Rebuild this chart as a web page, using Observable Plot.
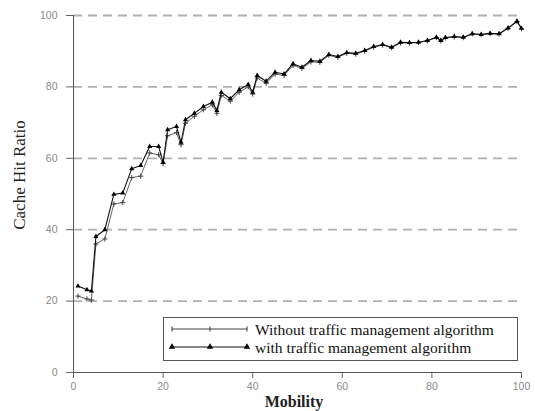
<!DOCTYPE html>
<html>
<head>
<meta charset="utf-8">
<script src="https://cdn.jsdelivr.net/npm/d3@7"></script>
<script src="https://cdn.jsdelivr.net/npm/@observablehq/plot@0.6"></script>
<style>
  html, body { margin: 0; padding: 0; background: #fff; }
  #chart { width: 535px; height: 411px; }
</style>
</head>
<body>
<div id="chart"></div>
<script>
// Mobility values (x)
const mobility = [1,3,4,5,7,9,11,13,15,17,19,20,21,23,24,25,27,29,31,32,33,35,37,39,40,41,43,45,47,49,51,53,55,57,59,61,63,65,67,69,71,73,75,77,79,81,82,83,85,87,89,91,93,95,97,99,100];
// Cache hit ratio, with traffic management algorithm
const withTM = [24.2,23.2,22.8,38.1,40.0,49.9,50.3,57.1,58.0,63.3,63.3,58.9,68.0,68.9,64.5,70.8,72.6,74.5,75.7,73.4,78.5,76.7,79.2,80.7,78.5,83.2,81.6,84.1,83.6,86.5,85.5,87.4,87.2,89.1,88.5,89.6,89.4,90.2,91.3,91.9,91.1,92.5,92.4,92.5,93.0,93.9,93.0,93.8,94.1,93.9,94.9,94.7,95.0,94.9,96.5,98.4,96.4];
// Cache hit ratio, without traffic management algorithm
const withoutTM = [21.4,20.6,20.3,36.0,37.4,47.2,47.6,54.6,55.0,61.5,61.0,58.5,66.3,67.2,63.8,69.8,71.8,73.6,75.0,72.6,77.6,76.0,78.5,80.0,78.0,82.5,81.0,83.6,83.2,86.0,85.2,87.0,86.9,88.8,88.3,89.4,89.2,90.0,91.1,91.7,91.0,92.3,92.3,92.4,92.9,93.8,92.9,93.7,94.0,93.8,94.8,94.6,94.9,94.8,96.4,98.3,96.3];
const xTicks = [0,20,40,60,80,100];
const yTicks = [0,20,40,60,80,100];
const gridY = [20,40,60,80,100];
const seriesNames = ["Without traffic management algorithm", "with traffic management algorithm"];

const rowsWithout = mobility.map((m, i) => ({x: m, y: withoutTM[i]}));
const rowsWith = mobility.map((m, i) => ({x: m, y: withTM[i]}));

const plot = Plot.plot({
  width: 535,
  height: 411,
  marginLeft: 73,
  marginRight: 14,
  marginTop: 15,
  marginBottom: 39,
  style: {fontFamily: "'Liberation Sans', Arial, sans-serif", fontSize: "10.5px", background: "#fff"},
  x: {domain: [0, 100]},
  y: {domain: [0, 100]},
  marks: [
    Plot.ruleY(gridY, {stroke: "#b0b0b0", strokeWidth: 1.8, strokeDasharray: "9,6"}),
    Plot.axisY(yTicks, {tickSize: 7, tickPadding: 9, label: null, stroke: "#666", fill: "#8a8a8a"}),
    Plot.axisX(xTicks, {tickSize: 6, tickPadding: 4, label: null, stroke: "#666", fill: "#8a8a8a"}),
    Plot.ruleX([0], {stroke: "#555"}),
    Plot.ruleY([0], {stroke: "#555"}),
    Plot.line(rowsWithout, {x: "x", y: "y", stroke: "#666", strokeWidth: 1}),
    Plot.dot(rowsWithout, {x: "x", y: "y", symbol: "plus", r: 1.8, stroke: "#444", strokeWidth: 1}),
    Plot.line(rowsWith, {x: "x", y: "y", stroke: "#111", strokeWidth: 1.1}),
    Plot.dot(rowsWith, {x: "x", y: "y", symbol: "triangle", r: 1.9, fill: "#000", stroke: "none"})
  ]
});
document.getElementById("chart").appendChild(plot);

// axis titles and legend (chart chrome)
const svg = d3.select(plot);
svg.append("text")
  .attr("transform", "translate(19,175) rotate(-90)")
  .attr("text-anchor", "middle")
  .attr("dominant-baseline", "central")
  .style("font-family", "'Liberation Serif', 'Times New Roman', serif")
  .style("font-size", "17px")
  .attr("fill", "#222")
  .text("Cache Hit Ratio");
svg.append("text")
  .attr("x", 294).attr("y", 401)
  .attr("text-anchor", "middle")
  .attr("dominant-baseline", "central")
  .style("font-family", "'Liberation Serif', 'Times New Roman', serif")
  .style("font-size", "16px")
  .style("font-weight", "bold")
  .attr("fill", "#222")
  .text("Mobility");

const lg = svg.append("g");
lg.append("rect").attr("x", 163.5).attr("y", 317.5).attr("width", 354).attr("height", 43)
  .attr("fill", "#fff").attr("stroke", "#555").attr("stroke-width", 1);
const rowsY = [329, 347];
const sx = [172, 210, 247];
// without row
lg.append("line").attr("x1", sx[0]).attr("x2", sx[2]).attr("y1", rowsY[0]).attr("y2", rowsY[0]).attr("stroke", "#444");
sx.forEach(x => lg.append("line").attr("x1", x).attr("x2", x).attr("y1", rowsY[0]-2.5).attr("y2", rowsY[0]+2.5).attr("stroke", "#333"));
// with row
lg.append("line").attr("x1", sx[0]).attr("x2", sx[2]).attr("y1", rowsY[1]).attr("y2", rowsY[1]).attr("stroke", "#111");
const tri = d3.symbol(d3.symbolTriangle, 18)();
sx.forEach(x => lg.append("path").attr("d", tri).attr("transform", `translate(${x},${rowsY[1]})`).attr("fill", "#000"));
seriesNames.forEach((name, i) => {
  lg.append("text").attr("x", 255).attr("y", rowsY[i])
    .attr("text-anchor", "start")
    .attr("dominant-baseline", "central")
    .style("font-family", "'Liberation Serif', 'Times New Roman', serif")
    .style("font-size", "15.5px")
    .attr("fill", "#111")
    .text(name);
});
</script>
</body>
</html>
